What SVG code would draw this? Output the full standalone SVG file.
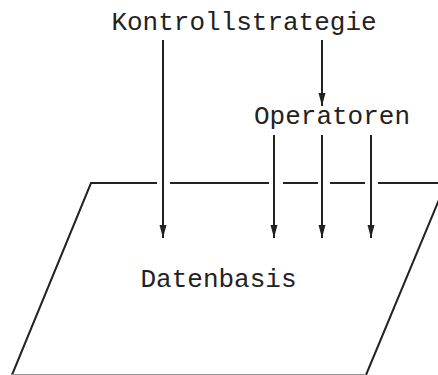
<svg xmlns="http://www.w3.org/2000/svg" width="438" height="375" viewBox="0 0 438 375">
<style>
.t{font-family:"Liberation Mono","DejaVu Sans Mono",monospace;font-size:26px;fill:#222;text-anchor:middle}
.l{stroke:#222;stroke-width:2;fill:none}
.c{stroke:#222;stroke-width:2;fill:none;marker-end:url(#ah)}
</style>
<defs>
<marker id="ah" markerWidth="14" markerHeight="8" refX="13" refY="4" orient="auto" markerUnits="userSpaceOnUse" viewBox="0 0 14 8">
<path d="M0,0.5 L13,4 L0,7.5 Z" fill="#222"/>
</marker>
</defs>
<rect width="438" height="375" fill="#fff"/>
<g id="datenbasis">
<path class="l" d="M157,183 H91 L12,375"/>
<path class="l" d="M170,183 H269 M283,183 H318 M330,183 H365 M378,183 H438"/>
<path class="l" d="M446,183 L366,375"/>
<path d="M12,374.5 H366" stroke="#999" stroke-width="1"/>
<text class="t" x="218.5" y="287">Datenbasis</text>
</g>
<g id="kontrollstrategie">
<text class="t" x="244" y="30">Kontrollstrategie</text>
</g>
<g id="operatoren">
<text class="t" x="332" y="124">Operatoren</text>
</g>
<g id="connectors">
<line class="c" x1="163" y1="40" x2="163" y2="238"/>
<line class="c" x1="322" y1="40" x2="322" y2="106"/>
<line class="c" x1="274" y1="135" x2="274" y2="238"/>
<line class="c" x1="322" y1="135" x2="322" y2="238"/>
<line class="c" x1="371" y1="135" x2="371" y2="238"/>
</g>
</svg>
